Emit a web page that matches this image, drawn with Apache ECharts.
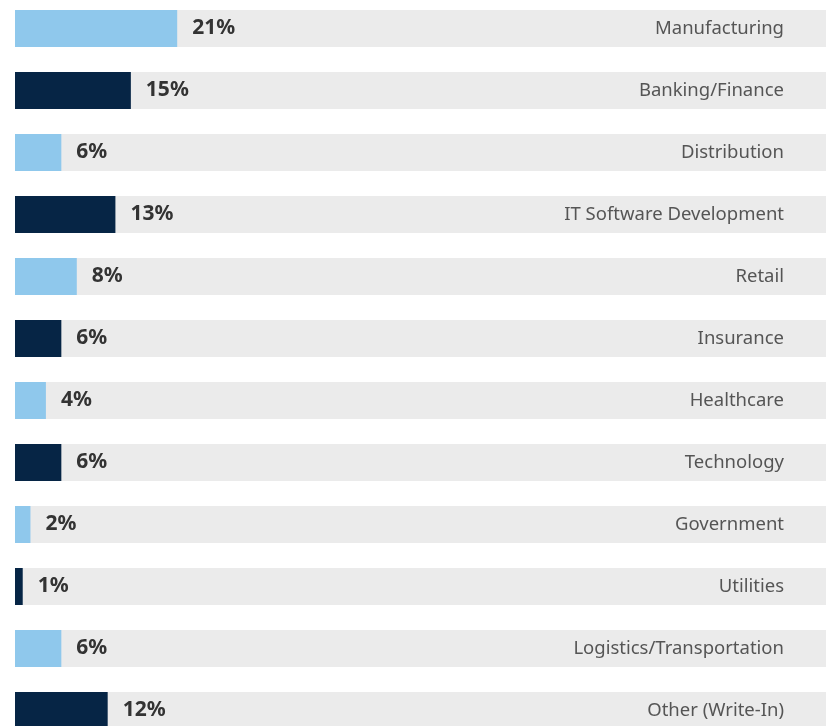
<!DOCTYPE html>
<html>
<head>
<meta charset="utf-8">
<script src="https://cdn.jsdelivr.net/npm/echarts@6/dist/echarts.min.js"></script>
<style>
  html, body { margin: 0; padding: 0; background: #fff; }
  #chart { width: 826px; height: 726px; }
</style>
</head>
<body>
<div id="chart"></div>
<script>
const categories = [
  'Manufacturing', 'Banking/Finance', 'Distribution', 'IT Software Development',
  'Retail', 'Insurance', 'Healthcare', 'Technology', 'Government', 'Utilities',
  'Logistics/Transportation', 'Other (Write-In)'
];
const values = [21, 15, 6, 13, 8, 6, 4, 6, 2, 1, 6, 12];
const barColors = ['#8fc8ec', '#062545'];

const myChart = echarts.init(document.getElementById('chart'));

const option = {
  animation: false,
  grid: { left: 15, top: -2.5, width: 811, height: 744, outerBoundsMode: 'none' },
  xAxis: {
    type: 'value',
    min: 0,
    max: 105,
    show: false
  },
  yAxis: {
    type: 'category',
    data: categories,
    inverse: true,
    position: 'right',
    axisLine: { show: false },
    axisTick: { show: false },
    axisLabel: {
      inside: true,
      margin: 42,
      color: '#555',
      fontSize: 18.5,
      fontFamily: 'Noto Sans',
      padding: [5, 0, 0, 0]
    },
    z: 10
  },
  series: [
    {
      type: 'bar',
      barWidth: 37,
      data: values.map((v, i) => ({
        value: v,
        itemStyle: { color: barColors[i % 2] }
      })),
      showBackground: true,
      backgroundStyle: { color: '#ebebeb' },
      label: {
        show: true,
        position: 'right',
        distance: 15,
        formatter: '{c}%',
        color: '#333',
        fontWeight: 'bold',
        fontSize: 21,
        fontFamily: 'Noto Sans'
      }
    }
  ]
};

myChart.setOption(option);
</script>
</body>
</html>
